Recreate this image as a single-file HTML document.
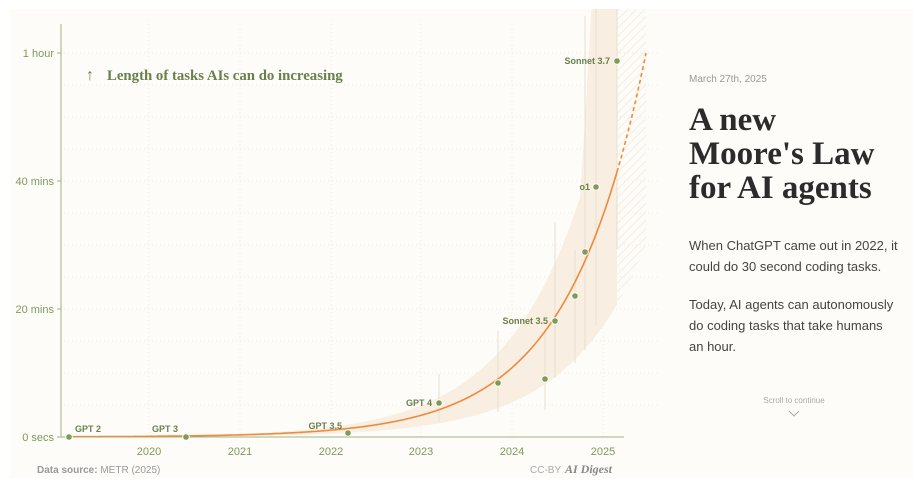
<!DOCTYPE html>
<html><head><meta charset="utf-8"><style>
body{margin:0;background:#fff;width:920px;height:482px;overflow:hidden;font-family:"Liberation Sans",sans-serif}
#p{position:absolute;left:10px;top:9px;width:903px;height:469px;background:#fdfcf8}
.r{position:absolute;left:689px;font-family:"Liberation Sans",sans-serif;color:#333}
</style></head><body>
<div id="p"></div>
<svg id="s" width="920" height="482" style="position:absolute;left:0;top:0">
<defs><pattern id="h" width="6" height="6" patternUnits="userSpaceOnUse" patternTransform="rotate(45)"><line x1="0" y1="0" x2="0" y2="6" stroke="#f5ede2" stroke-width="2"/></pattern>
<clipPath id="c"><rect x="10" y="9" width="660" height="428"/></clipPath></defs>
<g id="grid"></g>
<g id="band" clip-path="url(#c)"></g>
<g id="eb"></g>
<line x1="61" y1="24" x2="61" y2="437" stroke="#9db37f" stroke-width="1"/>
<line x1="61" y1="437" x2="624" y2="437" stroke="#9db37f" stroke-width="1"/>
<g font-size="11" fill="#7f9a5a" text-anchor="end" font-family="Liberation Sans">
<text x="54" y="57">1 hour</text><text x="54" y="185">40 mins</text><text x="54" y="313">20 mins</text><text x="54" y="441">0 secs</text></g>
<g stroke="#9db37f"><line x1="57" y1="53" x2="61" y2="53"/><line x1="57" y1="181" x2="61" y2="181"/><line x1="57" y1="309" x2="61" y2="309"/><line x1="57" y1="437" x2="61" y2="437"/></g>
<g font-size="11" fill="#7f9a5a" text-anchor="middle" font-family="Liberation Sans">
<text x="149" y="455">2020</text><text x="240" y="455">2021</text><text x="331" y="455">2022</text><text x="421" y="455">2023</text><text x="512" y="455">2024</text><text x="603" y="455">2025</text></g>
<g id="curve" clip-path="url(#c)"></g>
<g id="pts" fill="#7f9a5a"></g>
<g font-size="9" font-weight="bold" fill="#6a7f4c" font-family="Liberation Sans">
<text x="75" y="432">GPT 2</text><text x="178" y="432" text-anchor="end">GPT 3</text><text x="342" y="429" text-anchor="end">GPT 3.5</text>
<text x="432" y="406" text-anchor="end">GPT 4</text><text x="548" y="324" text-anchor="end">Sonnet 3.5</text>
<text x="590" y="190" text-anchor="end">o1</text><text x="610" y="64" text-anchor="end">Sonnet 3.7</text></g>
<text x="86" y="80" font-size="16" fill="#6a7f4c">↑</text>
<text x="107" y="80" font-size="14.8" fill="#6a7f4c" font-family="Liberation Serif" font-weight="bold">Length of tasks AIs can do increasing</text>
<text x="37" y="473" font-size="10" fill="#999"><tspan font-weight="bold">Data source:</tspan> METR (2025)</text>
<text x="530" y="473" font-size="10" fill="#aaa">CC-BY</text>
<text x="565" y="473" font-size="12" fill="#888" font-family="Liberation Serif" font-style="italic" font-weight="bold">AI Digest</text>
<text x="794" y="403" font-size="8" fill="#aaa" text-anchor="middle">Scroll to continue</text>
<polyline points="789,411 794,416 799,411" fill="none" stroke="#aaa" stroke-width="1"/>
</svg>
<div class="r" style="top:74px;font-size:10px;color:#999">March 27th, 2025</div>
<div class="r" style="top:103px;font-family:'Liberation Serif',serif;font-weight:bold;font-size:33px;line-height:34px;color:#2b2b2b">A new<br>Moore's Law<br>for AI agents</div>
<div class="r" style="top:235px;font-size:13px;line-height:21px;color:#444;width:210px">When ChatGPT came out in 2022, it could do 30 second coding tasks.</div>
<div class="r" style="top:294px;font-size:13px;line-height:21px;color:#444;width:205px">Today, AI agents can autonomously do coding tasks that take humans an hour.</div>
<script>
const NS="http://www.w3.org/2000/svg";
function el(p,t,a){const e=document.createElementNS(NS,t);for(const k in a)e.setAttribute(k,a[k]);document.getElementById(p).appendChild(e);return e;}
for(let y=53;y<437;y+=32)el("grid","line",{x1:64,y1:y,x2:660,y2:y,stroke:"#efebe1","stroke-dasharray":"1 3"});
[149,240,331,421,512,603].forEach(x=>el("grid","line",{x1:x,y1:20,x2:x,y2:437,stroke:"#efebe1","stroke-dasharray":"1 3"}));
const f=x=>60*Math.exp(1.16*(x-646)/90.8);
const Y=m=>437-m*6.4;
let up=[],lo=[];
for(let x=69;x<=646;x+=1){let k=x<580?1.45:1.45+0.07*(x-580);up.push(x+","+Y(f(x)*k).toFixed(1));lo.push(x+","+Y(f(x)*0.5).toFixed(1));}
el("band","path",{d:"M"+up.filter(p=>+p.split(",")[0]<=617).join("L")+"L617,9L617,"+Y(f(617)*0.5)+"L"+lo.filter(p=>+p.split(",")[0]<=617).reverse().join("L")+"Z",fill:"#f8eee2"});
el("band","path",{d:"M617,9L646,9L646,"+Y(f(646)*0.5)+"L"+lo.filter(p=>+p.split(",")[0]>=617).reverse().join("L")+"Z",fill:"url(#h)"});
let s=[],d=[];for(let x=69;x<=646;x+=1){(x<=617?s:d).push(x+","+Y(f(x)).toFixed(1));}
d.unshift(s[s.length-1]);
el("curve","polyline",{points:s.join(" "),fill:"none",stroke:"#ef8a3c","stroke-width":1.6});
el("curve","polyline",{points:d.join(" "),fill:"none",stroke:"#ef8a3c","stroke-width":1.6,"stroke-dasharray":"4 3"});
[[439,374,422],[498,331,412],[545,330,410],[555,222,378],[575,250,363],[585,16,350],[596,9,325],[617,9,249]].forEach(e=>el("eb","line",{x1:e[0],y1:e[1],x2:e[0],y2:e[2],stroke:"#e6e0cf"}));
[[69,437],[186,437],[348,433],[439,403],[498,383],[545,379],[555,321],[575,296],[585,252],[596,187],[617,61]].forEach(p=>el("pts","circle",{cx:p[0],cy:p[1],r:3.3,stroke:"#fdfcf8","stroke-width":1}));
</script>
</body></html>
